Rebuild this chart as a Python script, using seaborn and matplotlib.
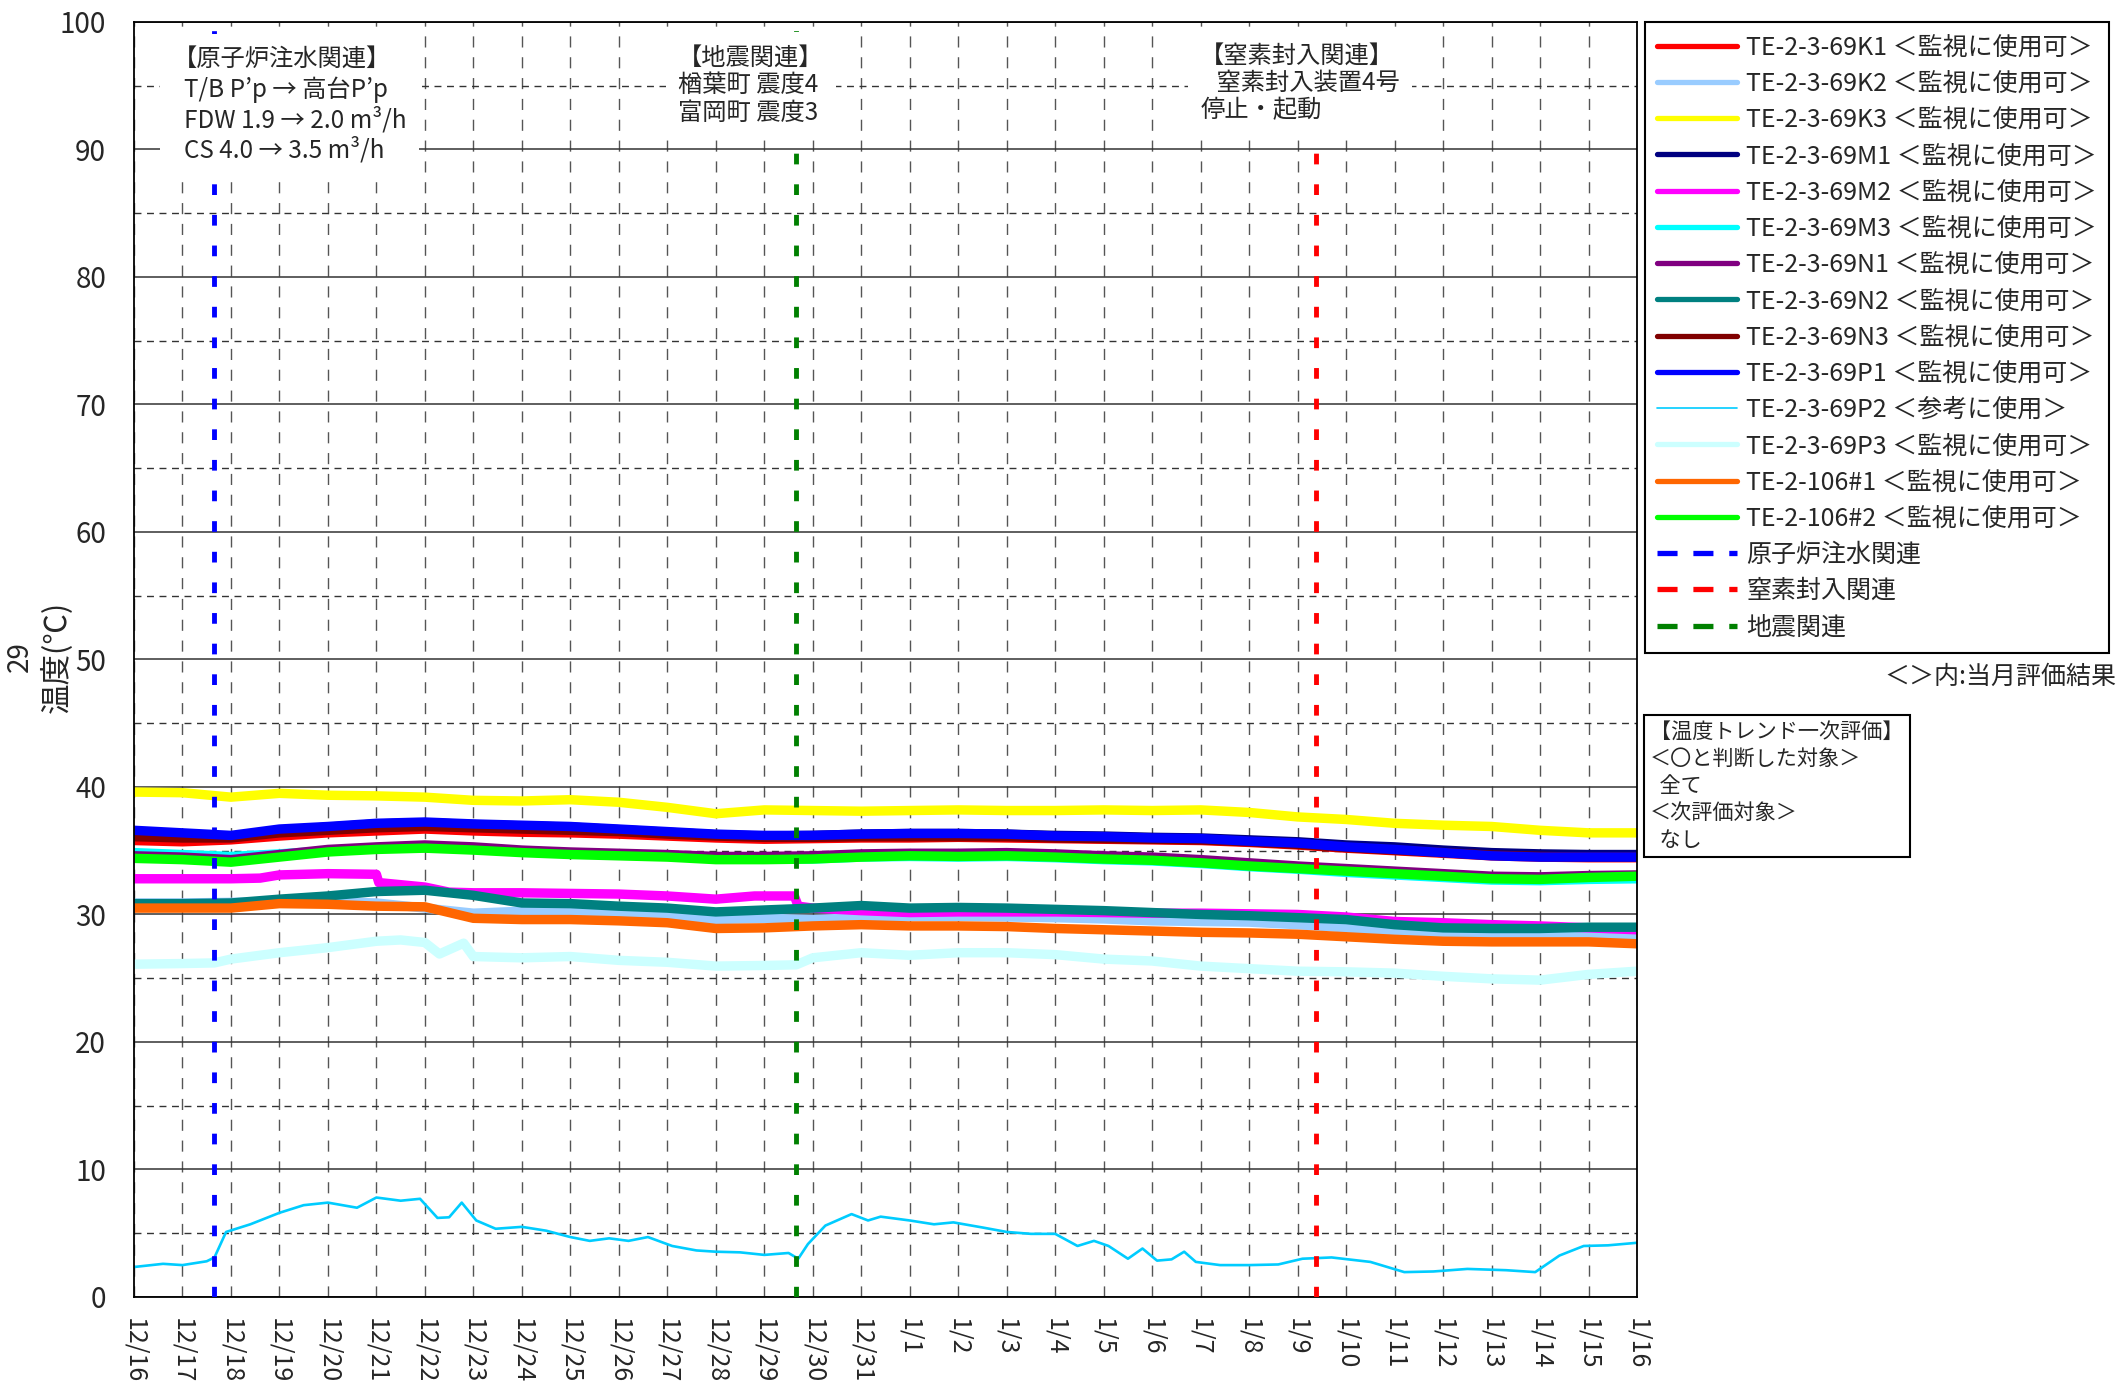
import matplotlib
matplotlib.use("Agg")
import matplotlib.pyplot as plt
from matplotlib.lines import Line2D
from matplotlib.ticker import MultipleLocator
import seaborn as sns

# x = days since 12/16 (0 = 12/16 ... 31 = 1/16)
day_labels = ["12/16", "12/17", "12/18", "12/19", "12/20", "12/21", "12/22", "12/23",
              "12/24", "12/25", "12/26", "12/27", "12/28", "12/29", "12/30", "12/31",
              "1/1", "1/2", "1/3", "1/4", "1/5", "1/6", "1/7", "1/8",
              "1/9", "1/10", "1/11", "1/12", "1/13", "1/14", "1/15", "1/16"]
days = list(range(32))

k1 = [35.8, 35.7, 35.85, 36.15, 36.4, 36.55, 36.7, 36.55, 36.45, 36.4, 36.3, 36.15, 36.0, 35.9, 35.95, 36.0,
      36.0, 36.05, 36.0, 35.95, 35.9, 35.85, 35.8, 35.65, 35.45, 35.2, 35.0, 34.8, 34.6, 34.5, 34.45, 34.45]
k2 = [30.9, 30.9, 30.95, 31.0, 31.0, 30.9, 30.5, 30.1, 30.25, 30.2, 30.1, 29.95, 29.6, 29.7, 29.6, 29.75,
      29.85, 29.85, 29.8, 29.75, 29.65, 29.5, 29.45, 29.4, 29.2, 28.95, 28.6, 28.4, 28.35, 28.3, 28.3, 28.25]
k3 = [39.6, 39.55, 39.2, 39.5, 39.35, 39.3, 39.2, 38.95, 38.9, 39.0, 38.8, 38.4, 37.9, 38.2, 38.15, 38.1,
      38.15, 38.2, 38.15, 38.15, 38.2, 38.15, 38.2, 38.0, 37.65, 37.45, 37.15, 37.0, 36.9, 36.6, 36.4, 36.4]
m1 = [36.5, 36.3, 36.1, 36.6, 36.85, 37.1, 37.2, 37.05, 36.95, 36.85, 36.65, 36.45, 36.25, 36.15, 36.2, 36.3,
      36.35, 36.35, 36.3, 36.2, 36.15, 36.05, 36.0, 35.85, 35.7, 35.45, 35.3, 35.05, 34.85, 34.75, 34.7, 34.7]
m2_x = [0, 1, 2, 2.6, 3, 4, 5.0, 5.05, 6, 6.5, 7, 8, 9, 10, 11, 12, 12.8, 13.62, 13.7, 14, 15,
        16, 17, 18, 19, 20, 21, 22, 23, 24, 25, 26, 27, 28, 29, 30, 31]
m2 = [32.8, 32.8, 32.8, 32.85, 33.1, 33.2, 33.15, 32.5, 32.15, 31.75, 31.7, 31.7, 31.65, 31.6, 31.45, 31.2,
      31.45, 31.45, 30.65, 30.5, 30.3, 30.15, 30.2, 30.2, 30.2, 30.15, 30.1, 30.1, 30.05, 30.0, 29.8, 29.45,
      29.35, 29.2, 29.1, 28.95, 28.8]
m3 = [34.85, 34.7, 34.55, 34.75, 35.0, 35.2, 35.3, 35.15, 34.95, 34.8, 34.7, 34.6, 34.4, 34.35, 34.35, 34.5,
      34.55, 34.5, 34.55, 34.45, 34.3, 34.2, 34.0, 33.75, 33.55, 33.3, 33.1, 32.9, 32.7, 32.65, 32.75, 32.8]
n1 = [34.6, 34.5, 34.3, 34.7, 35.1, 35.3, 35.45, 35.3, 35.05, 34.9, 34.8, 34.7, 34.55, 34.55, 34.6, 34.75,
      34.8, 34.8, 34.85, 34.75, 34.6, 34.5, 34.3, 34.05, 33.8, 33.6, 33.4, 33.2, 33.0, 32.95, 33.05, 33.1]
n2 = [30.85, 30.85, 30.9, 31.2, 31.45, 31.8, 31.9, 31.5, 30.9, 30.85, 30.65, 30.5, 30.2, 30.35, 30.5, 30.7,
      30.5, 30.55, 30.5, 30.4, 30.3, 30.15, 30.0, 29.9, 29.75, 29.6, 29.2, 28.95, 28.9, 28.9, 29.0, 29.0]
n3 = [36.1, 36.0, 36.0, 36.4, 36.6, 36.8, 36.9, 36.8, 36.7, 36.6, 36.5, 36.3, 36.15, 36.05, 36.05, 36.1,
      36.1, 36.1, 36.1, 36.0, 35.95, 35.9, 35.85, 35.7, 35.5, 35.25, 35.05, 34.85, 34.65, 34.55, 34.5, 34.5]
p1 = [36.6, 36.4, 36.2, 36.7, 36.9, 37.15, 37.25, 37.1, 37.0, 36.9, 36.7, 36.5, 36.3, 36.2, 36.2, 36.3,
      36.35, 36.35, 36.3, 36.15, 36.1, 36.0, 35.95, 35.75, 35.6, 35.3, 35.1, 34.85, 34.6, 34.5, 34.5, 34.5]
p2_x = [0, 0.6, 1.0, 1.5, 1.66, 1.9, 2.4, 3.0, 3.5, 4.0, 4.6, 5.0, 5.5, 5.9, 6.26, 6.5, 6.76, 7.06, 7.46,
        8.0, 8.5, 9.0, 9.4, 9.8, 10.2, 10.6, 11.1, 11.6, 12.0, 12.5, 13.0, 13.5, 13.7, 13.9, 14.26, 14.8,
        15.14, 15.4, 16.0, 16.5, 16.9, 17.5, 18.0, 18.5, 19.0, 19.46, 19.8, 20.1, 20.5, 20.8, 21.1, 21.4,
        21.66, 21.9, 22.4, 23.0, 23.6, 24.1, 24.7, 25.5, 26.2, 26.8, 27.5, 28.3, 28.9, 29.4, 29.9, 30.4, 31.0]
p2 = [2.35, 2.6, 2.5, 2.8, 3.1, 5.1, 5.7, 6.6, 7.2, 7.4, 7.0, 7.8, 7.55, 7.7, 6.2, 6.25, 7.4, 6.0, 5.35,
      5.5, 5.2, 4.7, 4.4, 4.6, 4.4, 4.7, 4.0, 3.65, 3.55, 3.5, 3.3, 3.45, 3.0, 4.15, 5.6, 6.5,
      6.0, 6.3, 6.0, 5.7, 5.85, 5.45, 5.1, 4.95, 4.95, 4.0, 4.4, 4.0, 3.0, 3.8, 2.85, 2.95,
      3.55, 2.75, 2.5, 2.5, 2.55, 3.0, 3.1, 2.75, 1.95, 2.0, 2.2, 2.1, 1.95, 3.25, 4.0, 4.05, 4.25]
p3_x = [0, 1, 1.66, 2, 3, 4, 5, 5.5, 6, 6.3, 6.8, 7.0, 8, 9, 10, 11, 12, 13, 13.66, 14, 15, 16, 17, 18,
        19, 20, 21, 22, 23, 24, 25, 26, 27, 28, 29, 30, 31]
p3 = [26.1, 26.15, 26.2, 26.5, 27.0, 27.4, 27.9, 28.0, 27.8, 26.9, 27.75, 26.7, 26.6, 26.7, 26.4, 26.25,
      25.95, 26.0, 26.05, 26.6, 27.0, 26.8, 27.0, 27.0, 26.85, 26.5, 26.35, 25.95, 25.75, 25.55, 25.5, 25.4,
      25.15, 24.95, 24.85, 25.3, 25.55]
t106_1 = [30.5, 30.5, 30.5, 30.85, 30.8, 30.65, 30.6, 29.7, 29.6, 29.6, 29.5, 29.35, 28.9, 28.95, 29.1, 29.2,
          29.1, 29.1, 29.05, 28.9, 28.8, 28.7, 28.6, 28.55, 28.45, 28.25, 28.05, 27.9, 27.85, 27.85, 27.85, 27.7]
t106_2 = [34.4, 34.3, 34.1, 34.5, 34.9, 35.1, 35.2, 35.05, 34.85, 34.7, 34.6, 34.5, 34.3, 34.3, 34.35, 34.5,
          34.6, 34.55, 34.6, 34.5, 34.35, 34.25, 34.05, 33.8, 33.6, 33.4, 33.2, 33.0, 32.8, 32.75, 32.9, 33.0]

labels = ["TE-2-3-69K1 ＜監視に使用可＞", "TE-2-3-69K2 ＜監視に使用可＞", "TE-2-3-69K3 ＜監視に使用可＞",
          "TE-2-3-69M1 ＜監視に使用可＞", "TE-2-3-69M2 ＜監視に使用可＞", "TE-2-3-69M3 ＜監視に使用可＞",
          "TE-2-3-69N1 ＜監視に使用可＞", "TE-2-3-69N2 ＜監視に使用可＞", "TE-2-3-69N3 ＜監視に使用可＞",
          "TE-2-3-69P1 ＜監視に使用可＞", "TE-2-3-69P2 ＜参考に使用＞", "TE-2-3-69P3 ＜監視に使用可＞",
          "TE-2-106#1 ＜監視に使用可＞", "TE-2-106#2 ＜監視に使用可＞"]
colors = ["#FF0000", "#99CCFF", "#FFFF00", "#000080", "#FF00FF", "#00FFFF", "#800080",
          "#008080", "#800000", "#0000FF", "#00CCFF", "#CCFFFF", "#FF6600", "#00FF00"]

event_labels = ["原子炉注水関連", "窒素封入関連", "地震関連"]
event_x = [1.66, 24.38, 13.66]
event_colors = ["#0000FF", "#FF0000", "#008000"]

sns.set_style("white")
plt.rcParams['font.family'] = ['Noto Sans CJK JP', 'DejaVu Sans']

fig = plt.figure(figsize=(21.23, 13.97), dpi=100)
ax = fig.add_axes([0.0631, 0.0716, 0.7080, 0.9127])

series = [(days, k1), (days, k2), (days, k3), (days, m1), (m2_x, m2), (days, m3), (days, n1),
          (days, n2), (days, n3), (days, p1), (p2_x, p2), (p3_x, p3), (days, t106_1), (days, t106_2)]
for i, (xs, ys) in enumerate(series):
    lw = 1.9 if i == 10 else 6.8
    sns.lineplot(x=xs, y=ys, color=colors[i], lw=lw, ax=ax, legend=False, zorder=2 + i * 0.01)

for x, c in zip(event_x, event_colors):
    ax.axvline(x, color=c, lw=3.5, dashes=(2.2, 4.1), zorder=4)

# grid
ax.set_xlim(0, 31)
ax.set_ylim(0, 100)
ax.set_xticks(days)
ax.set_xticklabels(day_labels, rotation=-90, fontsize=18, ha="center", va="top")
ax.yaxis.set_major_locator(MultipleLocator(10))
ax.yaxis.set_minor_locator(MultipleLocator(5))
ax.tick_params(axis="both", which="both", length=0)
ax.tick_params(axis="y", labelsize=20, pad=20)
ax.tick_params(axis="x", pad=15)
ax.grid(axis="y", which="major", color="#333333", lw=1.1, ls="-")
ax.grid(axis="y", which="minor", color="#333333", lw=1.0, ls=(0, (5, 4)))
ax.grid(axis="x", which="major", color="#555555", lw=1.0, ls=(0, (8, 7)))
ax.set_axisbelow(True)
for s in ax.spines.values():
    s.set_color("black")
    s.set_linewidth(1.3)
ax.set_xlabel("")
ax.set_ylabel("")

fig.text(0.0268, 0.530, "温度(℃)", rotation=90, ha="center", va="center", fontsize=22)
fig.text(0.0094, 0.530, "29", rotation=90, ha="center", va="center", fontsize=20)

# event notes
box = dict(facecolor="white", edgecolor="none", pad=9)
ax.text(0.80, 98.1, "【原子炉注水関連】\n  T/B P’p → 高台P’p\n  FDW 1.9 → 2.0 m³/h\n  CS 4.0 → 3.5 m³/h",
        fontsize=17.5, linespacing=1.2, va="top", ha="left", bbox=box, zorder=6)
ax.text(11.22, 98.2, "【地震関連】\n楢葉町 震度4\n富岡町 震度3",
        fontsize=17.5, linespacing=1.08, va="top", ha="left", bbox=box, zorder=6)
ax.text(21.99, 98.4, "【窒素封入関連】\n   窒素封入装置4号\n停止・起動",
        fontsize=17.5, linespacing=1.08, va="top", ha="left", bbox=box, zorder=6)

# legend
handles = []
for i, c in enumerate(colors):
    handles.append(Line2D([0], [0], color=c, lw=1.2 if i == 10 else 3.8))
for c in event_colors:
    handles.append(Line2D([0], [0], color=c, lw=3.8, dashes=(3.8, 3.0)))
leg = ax.legend(handles, labels + event_labels, loc="upper left", bbox_to_anchor=(0.7748, 0.9843),
                bbox_transform=fig.transFigure, frameon=True, fancybox=False, edgecolor="black",
                framealpha=1, borderaxespad=0, fontsize=18, handlelength=3.2, handletextpad=0.35,
                labelspacing=0.41, borderpad=0.5)
leg.get_frame().set_linewidth(1.5)

fig.text(0.9967, 0.5154, "＜＞内:当月評価結果", ha="right", va="center", fontsize=18)
fig.text(0.7772, 0.4835, "【温度トレンド一次評価】\n＜〇と判断した対象＞\n  全て\n＜次評価対象＞\n  なし",
         ha="left", va="top", fontsize=15.2, linespacing=1.28,
         bbox=dict(boxstyle="square,pad=0.3", facecolor="white", edgecolor="black", lw=1.5))

fig.savefig("out.png", dpi=100)
